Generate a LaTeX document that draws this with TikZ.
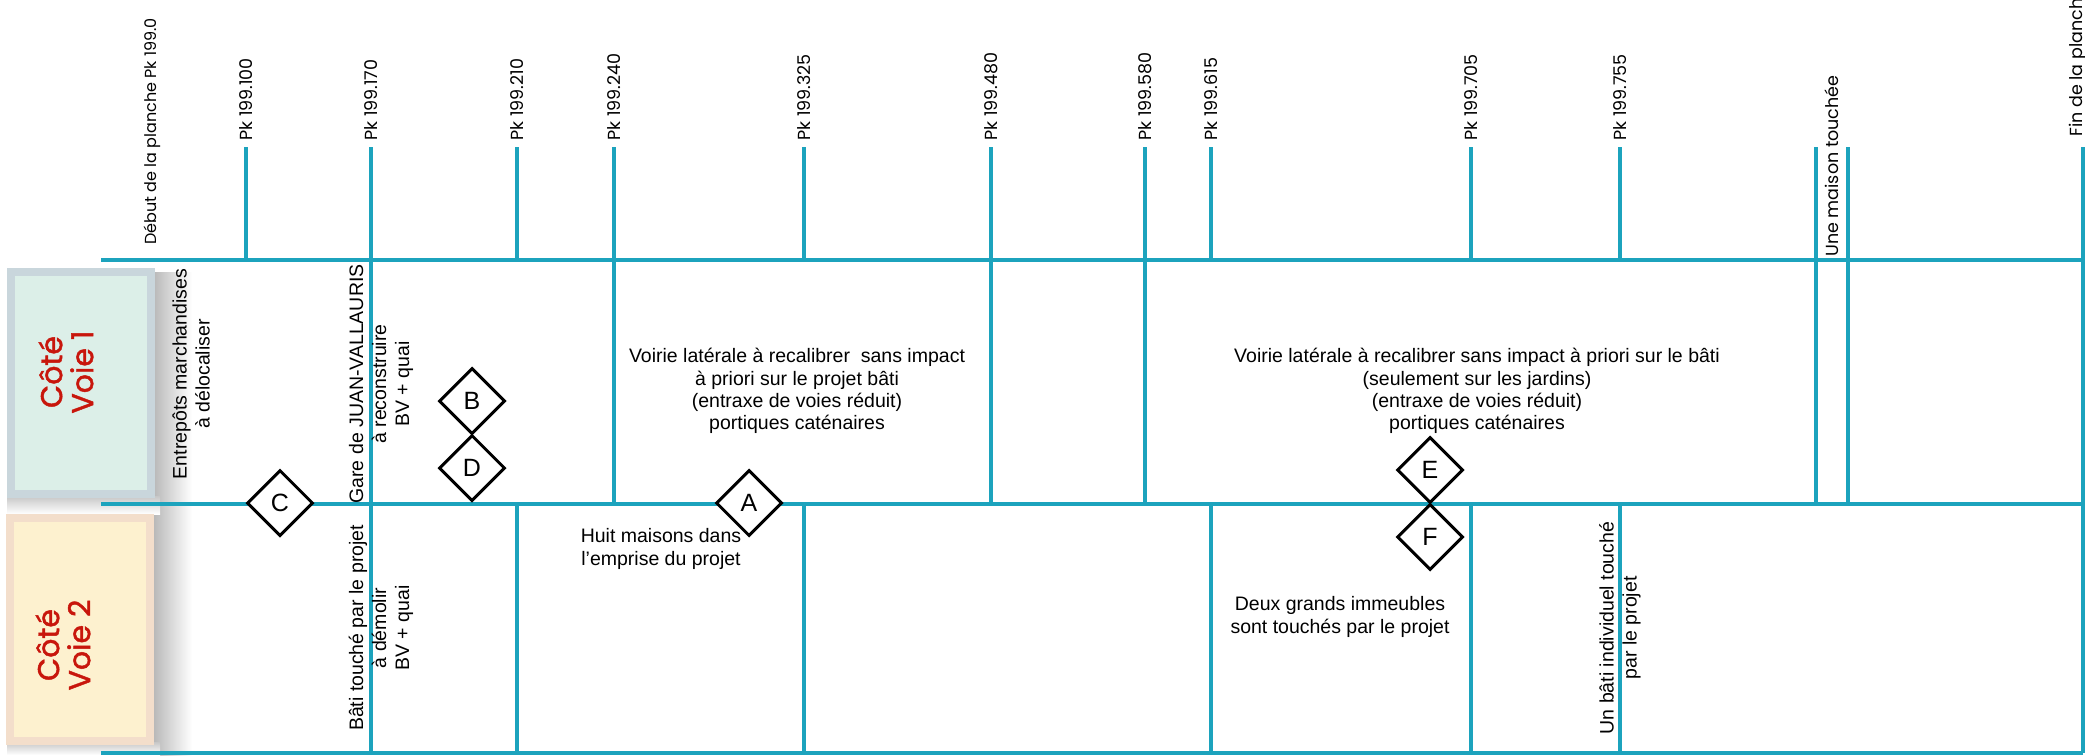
\documentclass[tikz,border=0pt]{standalone}
\usepackage{fontspec}
\setmainfont{Liberation Sans}
\newfontfamily\pkfont{Poppins}
\newfontfamily\cotefont{Poppins}[FakeBold=1.5]
\usetikzlibrary{shapes.geometric}
\definecolor{lineteal}{RGB}{28,163,189}
\definecolor{cotered}{RGB}{200,22,12}
\definecolor{boxoneborder}{RGB}{201,214,220}
\definecolor{boxonefill}{RGB}{220,239,232}
\definecolor{boxtwoborder}{RGB}{243,222,203}
\definecolor{boxtwofill}{RGB}{253,241,207}
\begin{document}
\begin{tikzpicture}[x=1pt,y=-1pt,
  gridline/.style={draw=lineteal, line width=3.2pt},
  pklab/.style={rotate=90, anchor=west, inner sep=0pt, font=\pkfont\fontsize{17.5}{19}\selectfont},
  vtxt/.style={rotate=90, align=center, inner sep=0pt, font=\fontsize{19.5}{23}\selectfont},
  htxt/.style={align=center, inner sep=0pt, font=\fontsize{19.5}{22.3}\selectfont},
  diam/.style={diamond, draw=black, line width=3pt, fill=white, aspect=1,
    minimum width=66pt, minimum height=66pt, inner sep=0pt, font=\fontsize{25}{25}\selectfont},
  cotelab/.style={rotate=90, align=center, inner sep=0pt, text=cotered,
    font=\cotefont\fontsize{30}{31}\selectfont},
  sidebox/.style={line width=8pt, minimum width=140pt, minimum height=222pt, inner sep=0pt}
]
\useasboundingbox (0,0) rectangle (2085,755);

% shadows of side boxes
\shade[left color=black!28, right color=white] (153,272) rectangle (192,755);
\shade[top color=black!22, bottom color=white] (7,496) rectangle (160,514);
\shade[top color=black!22, bottom color=white] (7,742) rectangle (160,755);

% side boxes
\node[sidebox, draw=boxoneborder, fill=boxonefill] (box1) at (81,383) {};
\node[sidebox, draw=boxtwoborder, fill=boxtwofill, minimum height=223pt] (box2) at (80,629) {};
\node[cotelab] (lab1) at (66,372) {Côté\\Voie 1};
\node[cotelab] (lab2) at (63,645) {Côté\\Voie 2};

% horizontal lines
\coordinate (h1a) at (101,260); \coordinate (h1b) at (2083,260);
\coordinate (h2a) at (101,504); \coordinate (h2b) at (2083,504);
\coordinate (h3a) at (101,753); \coordinate (h3b) at (2083,753);
\draw[gridline] (h1a) -- (h1b);
\draw[gridline] (h2a) -- (h2b);
\draw[gridline] (h3a) -- (h3b);

% ticks spanning only the top band
\foreach \x in {246, 517, 804, 1211, 1471, 1620}{
  \draw[gridline] (\x,147) -- (\x,260);
}
% ticks through row 1
\foreach \x in {614, 991, 1145, 1816, 1848}{
  \draw[gridline] (\x,147) -- (\x,504);
}
% row 2 only segments
\foreach \x in {517, 804, 1211, 1471, 1620}{
  \draw[gridline] (\x,504) -- (\x,753);
}
% full height
\draw[gridline] (371,147) -- (371,753);
\draw[gridline] (2083,147) -- (2083,753);

% top labels
\node[pklab, font=\pkfont\fontsize{16}{18}\selectfont] (debut) at (152,245) {Début de la planche Pk 199.0};
\node[pklab] (pk100) at (246,141) {Pk 199.100};
\node[pklab] (pk170) at (371,141) {Pk 199.170};
\node[pklab] (pk210) at (517,141) {Pk 199.210};
\node[pklab] (pk240) at (614,141) {Pk 199.240};
\node[pklab] (pk325) at (804,141) {Pk 199.325};
\node[pklab] (pk480) at (991,141) {Pk 199.480};
\node[pklab] (pk580) at (1145,141) {Pk 199.580};
\node[pklab] (pk615) at (1211,141) {Pk 199.615};
\node[pklab] (pk705) at (1471,141) {Pk 199.705};
\node[pklab] (pk755) at (1620,141) {Pk 199.755};
\node[pklab] (maison) at (1832,257) {Une maison touchée};
\node[pklab] (fin) at (2078,137) {Fin de la planche};

% row texts
\node[vtxt] (entrepots) at (191,374) {Entrepôts marchandises\\à délocaliser};
\node[vtxt] (gare) at (381,384) {Gare de JUAN-VALLAURIS\\à reconstruire\\BV + quai};
\node[vtxt] (bati) at (381,628) {Bâti touché par le projet\\à démolir\\BV + quai};
\node[htxt] (voirie1) at (797,391) {Voirie latérale à recalibrer\ \ sans impact\\à priori sur le projet bâti\\(entraxe de voies réduit)\\portiques caténaires};
\node[htxt] (voirie2) at (1477,391) {Voirie latérale à recalibrer sans impact à priori sur le bâti\\(seulement sur les jardins)\\(entraxe de voies réduit)\\portiques caténaires};
\node[htxt] (huit) at (661,549) {Huit maisons dans\\l'emprise du projet};
\node[htxt] (deux) at (1340,617) {Deux grands immeubles\\sont touchés par le projet};
\node[vtxt] (unbati) at (1620,628) {Un bâti individuel touché\\par le projet};

% diamonds
\node[diam] (C) at (280,503) {C};
\node[diam] (B) at (472,401) {B};
\node[diam] (D) at (472,468) {D};
\node[diam] (A) at (749,503) {A};
\node[diam] (E) at (1430,470) {E};
\node[diam] (F) at (1430,537) {F};
\end{tikzpicture}
\end{document}
